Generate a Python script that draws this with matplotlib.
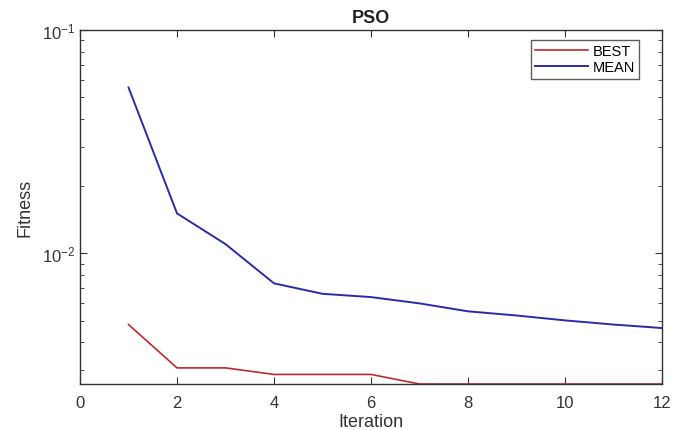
import matplotlib
matplotlib.use("Agg")
import matplotlib.pyplot as plt
from matplotlib.ticker import LogLocator, NullFormatter

iterations = [1, 2, 3, 4, 5, 6, 7, 8, 9, 10, 11, 12]
best = [4.8e-3, 3.07e-3, 3.07e-3, 2.87e-3, 2.87e-3, 2.87e-3, 2.6e-3, 2.6e-3, 2.6e-3, 2.6e-3, 2.6e-3, 2.6e-3]
mean = [0.0553, 0.0151, 0.0110, 7.34e-3, 6.59e-3, 6.37e-3, 5.97e-3, 5.50e-3, 5.27e-3, 5.01e-3, 4.80e-3, 4.63e-3]
xticks = [0, 2, 4, 6, 8, 10, 12]

plt.rcParams['font.family'] = ['Liberation Sans', 'DejaVu Sans']
fig = plt.figure(figsize=(6.73, 4.31), dpi=100)
ax = fig.add_axes([0.1189, 0.1067, 0.8648, 0.8213])

ax.plot(iterations, best, color='#c0282d', lw=1.2, label='BEST')
ax.plot(iterations, mean, color='#2b2ba8', lw=1.4, label='MEAN')
ax.set_yscale('log')
ax.set_xlim(0, 12)
ax.set_ylim(2.6e-3, 1e-1)
ax.set_xticks(xticks)
ax.set_xticklabels([str(t) for t in xticks])
ax.yaxis.set_major_locator(LogLocator(base=10, numticks=10))
ax.yaxis.set_minor_locator(LogLocator(base=10, subs=range(2, 10), numticks=20))
ax.yaxis.set_minor_formatter(NullFormatter())

for s in ax.spines.values():
    s.set_color('#333333')
    s.set_linewidth(1.0)
ax.tick_params(which='both', direction='in', top=True, right=True, colors='#333333', labelcolor='#333333', labelsize=12)
ax.tick_params(which='major', length=5)
ax.tick_params(which='minor', length=3)
ax.tick_params(axis='x', pad=8)

ax.set_xlabel('Iteration', fontsize=13, color='#333333', labelpad=2)
ax.set_ylabel('Fitness', fontsize=13, color='#333333', labelpad=6)
ax.set_title('PSO', fontsize=13, fontweight='bold', color='#222222', pad=6)

leg = ax.legend(loc='upper right', bbox_to_anchor=(0.968, 0.985), fontsize=10.5, frameon=True,
                fancybox=False, edgecolor='#333333', handlelength=3.6, borderpad=0.3,
                labelspacing=0.15, handletextpad=0.3, borderaxespad=0.3)
leg.get_frame().set_linewidth(1.0)

fig.savefig('out.png', dpi=100)
